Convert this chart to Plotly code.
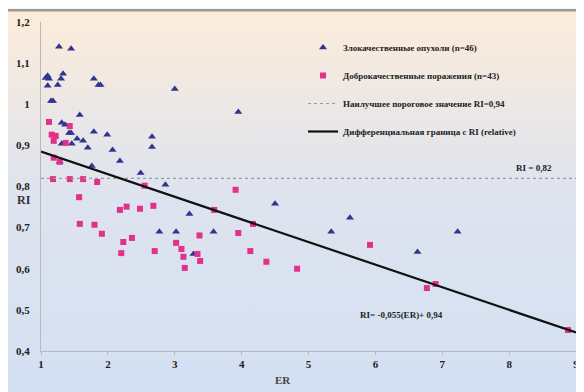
import base64
import plotly.graph_objects as go

# ---------------- data ----------------
malig_er = [1.27, 1.45, 1.10, 1.12, 1.07, 1.10, 1.33, 1.30, 1.25, 1.79, 1.86, 1.89,
            3.00, 1.15, 1.18, 1.58, 1.31, 1.36, 1.42, 1.45, 1.79, 1.99, 2.66, 2.66,
            1.54, 1.63, 1.46, 1.31, 1.70, 2.07, 1.28, 2.18, 1.76, 2.49, 2.86, 3.95,
            2.77, 3.02, 3.28, 3.22, 3.58, 4.50, 5.34, 5.62, 6.63, 7.23]
malig_ri = [1.140, 1.135, 1.069, 1.062, 1.064, 1.045, 1.074, 1.062, 1.047, 1.062, 1.047, 1.047,
            1.037, 1.008, 1.008, 0.974, 0.955, 0.950, 0.930, 0.930, 0.933, 0.926, 0.921, 0.896,
            0.916, 0.911, 0.904, 0.904, 0.894, 0.889, 0.860, 0.862, 0.850, 0.833, 0.804, 0.981,
            0.690, 0.690, 0.636, 0.733, 0.690, 0.758, 0.690, 0.724, 0.641, 0.690]

benign_er = [1.12, 1.16, 1.22, 1.19, 1.43, 1.37, 1.19, 1.28, 1.18, 1.43, 1.63, 1.84,
             2.55, 1.57, 1.58, 1.80, 1.91, 2.18, 2.28, 2.48, 2.68, 2.23, 2.36, 2.20,
             2.70, 3.02, 3.10, 3.13, 3.15, 3.91, 3.59, 4.17, 3.37, 3.95, 3.34, 3.38,
             4.13, 4.37, 4.83, 5.92, 6.77, 6.90, 8.88]
benign_ri = [0.957, 0.926, 0.923, 0.911, 0.947, 0.906, 0.870, 0.860, 0.818, 0.818, 0.818, 0.811,
             0.802, 0.774, 0.709, 0.707, 0.685, 0.743, 0.751, 0.746, 0.753, 0.665, 0.675, 0.638,
             0.643, 0.663, 0.648, 0.629, 0.602, 0.792, 0.743, 0.709, 0.681, 0.687, 0.636, 0.619,
             0.643, 0.617, 0.600, 0.658, 0.553, 0.563, 0.451]

threshold_ri = 0.82
reg_slope = -0.055
reg_intercept = 0.94
er_range = [1, 9]

x_ticks = [1, 2, 3, 4, 5, 6, 7, 8, 9]
x_tick_text = ["1", "2", "3", "4", "5", "6", "7", "8", "9"]
y_ticks = [0.4, 0.5, 0.6, 0.7, 0.8, 0.9, 1.0, 1.1, 1.2]
y_tick_text = ["0,4", "0,5", "0,6", "0,7", "0,8", "0,9", "1", "1,1", "1,2"]

legend_names = [
    "Злокачественные опухоли (n=46)",
    "Доброкачественные поражения (n=43)",
    "Наилучшее пороговое значение RI=0,94",
    "Дифференциальная граница с RI (relative)",
]

# ---------------- layout geometry ----------------
# the page places the figure 8px in from the top-left corner
OFF = 8
PAGE_W, PAGE_H = 584, 392
W, H = PAGE_W - OFF, PAGE_H - OFF
# plot area in page pixels: x 41..576, y 22..351
L, R, T, B = 41 - OFF, PAGE_W - 576, 22 - OFF, PAGE_H - 351
PW, PH = W - L - R, H - T - B

def px(xp):  # page x pixel -> paper
    return (xp - OFF - L) / PW

def py(yp):  # page y pixel -> paper
    return (H - B - (yp - OFF)) / PH

# background drawn as an SVG gradient image covering the figure
svg = f'''<svg xmlns="http://www.w3.org/2000/svg" width="{W}" height="{H}" viewBox="0 0 {W} {H}" preserveAspectRatio="none">
<defs><linearGradient id="g" x1="0" y1="0" x2="0" y2="1">
<stop offset="0" stop-color="#fdecda"/>
<stop offset="0.45" stop-color="#dfe4ee"/>
<stop offset="1" stop-color="#d3e0f2"/>
</linearGradient></defs>
<rect x="0" y="0" width="{W}" height="{H}" fill="#f6f6f6"/>
<rect x="0" y="3" width="{W}" height="{H-3}" fill="url(#g)"/>
<rect x="0" y="1" width="{W}" height="2.5" fill="#9a9a9a"/>
</svg>'''
src = "data:image/svg+xml;base64," + base64.b64encode(svg.encode()).decode()

serif = "Liberation Serif"
fig = go.Figure()

fig.add_trace(go.Scatter(
    x=malig_er, y=malig_ri, mode="markers", name=legend_names[0],
    marker=dict(symbol="triangle-up", size=7, color="#30358f"),
    legendgroup="a",
))
fig.add_trace(go.Scatter(
    x=benign_er, y=benign_ri, mode="markers", name=legend_names[1],
    marker=dict(symbol="square", size=6, color="#e2318a"),
    legendgroup="b",
))
fig.add_trace(go.Scatter(
    x=er_range, y=[threshold_ri, threshold_ri], mode="lines", name=legend_names[2],
    line=dict(color="#9c9c9c", width=1.2, dash="dot"),
    legendgroup="c",
))
fig.add_trace(go.Scatter(
    x=er_range, y=[reg_slope * v + reg_intercept for v in er_range], mode="lines",
    name=legend_names[3], line=dict(color="#111111", width=2.2),
    legendgroup="d",
))

def label(text, xp, yp, size, color):
    return dict(text=text, x=px(xp), y=py(yp), xref="paper", yref="paper",
                xanchor="center", yanchor="middle", showarrow=False,
                font=dict(family=serif, size=size, color=color, weight="bold"))

fig.update_layout(
    width=W, height=H,
    margin=dict(l=L, r=R, t=T, b=B, autoexpand=False),
    paper_bgcolor="white",
    plot_bgcolor="rgba(0,0,0,0)",
    images=[dict(source=src, xref="paper", yref="paper",
                 x=-L / PW, y=1 + T / PH, sizex=W / PW, sizey=H / PH,
                 xanchor="left", yanchor="top", sizing="stretch", layer="below")],
    showlegend=True,
    legend=dict(x=px(303), y=py(33), xanchor="left", yanchor="top",
                bgcolor="rgba(0,0,0,0)", tracegroupgap=9,
                font=dict(family=serif, size=9, color="#222222", weight="bold")),
    xaxis=dict(range=er_range,
               tickvals=x_ticks, ticktext=x_tick_text, showgrid=False, zeroline=False,
               showline=True, linecolor="#b8b8b8", linewidth=1,
               ticks="outside", ticklen=3, tickcolor="#b8b8b8", automargin=False,
               ticklabeloverflow="allow",
               tickfont=dict(family=serif, size=11, color="#222222", weight="bold")),
    yaxis=dict(range=[0.4, 1.2], tickvals=y_ticks, ticktext=y_tick_text,
               showgrid=False, zeroline=False, showline=True, linecolor="#b8b8b8",
               linewidth=1, ticks="", ticklabelstandoff=8, automargin=False,
               tickfont=dict(family=serif, size=11, color="#222222", weight="bold")),
    annotations=[
        label("RI", 24, 200, 12, "#333333"),
        label("ER", 283, 380, 11, "#444444"),
        label("RI = 0,82", 534, 168, 9, "#222222"),
        label("RI= -0,055(ER)+ 0,94", 401, 315, 9, "#222222"),
    ],
)

fig.write_html("out.html")
